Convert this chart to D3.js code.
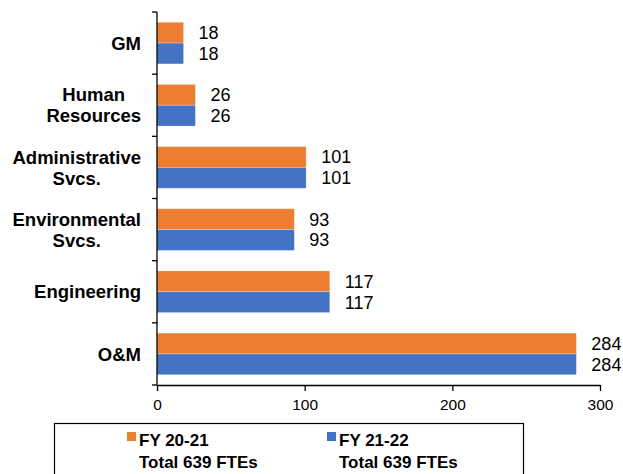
<!DOCTYPE html>
<html>
<head>
<meta charset="utf-8">
<script src="https://cdn.jsdelivr.net/npm/d3@7"></script>
<style>
  body { margin: 0; background: #fff; }
  svg { font-family: "Liberation Sans", Arial, sans-serif; }
</style>
</head>
<body>
<div id="chart"></div>
<script>
const categories = [
    ["GM"],
    ["Human", "Resources"],
    ["Administrative", "Svcs."],
    ["Environmental", "Svcs."],
    ["Engineering"],
    ["O&M"]
];
const fy2021 = [18, 26, 101, 93, 117, 284];
const fy2122 = [18, 26, 101, 93, 117, 284];
const xTicks = [0, 100, 200, 300];
const seriesNames = ["FY 20-21", "FY 21-22"];
const seriesTotals = ["Total 639 FTEs", "Total 639 FTEs"];
const colors = ["#ED7D31", "#4472C4"];

const W = 623, H = 474;
const MARGIN = { top: 12, left: 157, right: 23, bottom: 89 };

const svg = d3.select("#chart").append("svg")
    .attr("width", W).attr("height", H);

const keys = categories.map((c) => c.join(" "));

const y = d3.scaleBand()
    .domain(keys)
    .range([MARGIN.top, H - MARGIN.bottom])
    .paddingInner(0.33)
    .paddingOuter(0.165);

const x = d3.scaleLinear()
    .domain([0, 300])
    .range([MARGIN.left, W - MARGIN.right]);

const sub = d3.scaleBand()
    .domain([0, 1])
    .range([0, y.bandwidth()]);

// bars
const rows = keys.map((k, i) => ({ key: k, vals: [fy2021[i], fy2122[i]] }));
const groups = svg.append("g").selectAll("g")
    .data(rows).join("g")
    .attr("transform", (d) => `translate(0, ${y(d.key)})`);

groups.selectAll("rect")
    .data((d) => d.vals)
    .join("rect")
    .attr("x", x(0))
    .attr("y", (d, j) => sub(j))
    .attr("width", (d) => x(d) - x(0))
    .attr("height", sub.bandwidth())
    .attr("fill", (d, j) => colors[j])
    .attr("stroke", "#fff")
    .attr("stroke-opacity", 0.35)
    .attr("stroke-width", 0.8);

groups.selectAll("text.val")
    .data((d) => d.vals)
    .join("text")
    .attr("class", "val")
    .attr("x", (d) => x(d) + 15)
    .attr("y", (d, j) => sub(j) + sub.bandwidth() / 2)
    .attr("dy", "0.36em")
    .attr("font-size", 18)
    .attr("fill", "#000")
    .text((d) => d);

// y axis: line with ticks at category boundaries
const yTop = MARGIN.top, yBot = H - MARGIN.bottom;
const yAxis = svg.append("g");
yAxis.append("line")
    .attr("x1", x(0)).attr("x2", x(0))
    .attr("y1", yTop).attr("y2", yBot)
    .attr("stroke", "#000").attr("stroke-width", 1.3);
yAxis.selectAll("line.tick")
    .data(d3.range(keys.length + 1))
    .join("line")
    .attr("class", "tick")
    .attr("x1", x(0) - 5).attr("x2", x(0))
    .attr("y1", (i) => yTop + i * (yBot - yTop) / keys.length)
    .attr("y2", (i) => yTop + i * (yBot - yTop) / keys.length)
    .attr("stroke", "#000").attr("stroke-width", 1.3);

// category labels: block right-aligned at labelRight, lines centred in block
const labelRight = 141;
const catLabels = svg.append("g").selectAll("text")
    .data(categories).join("text")
    .attr("y", (d, i) => y(keys[i]) + y.bandwidth() / 2 - (d.length - 1) * 10.5)
    .attr("text-anchor", "middle")
    .attr("font-size", 18.5)
    .attr("font-weight", "bold")
    .attr("fill", "#000");
catLabels.selectAll("tspan")
    .data((d) => d).join("tspan")
    .attr("dy", (d, i) => i === 0 ? "0.36em" : 21)
    .text((d) => d);
catLabels.each(function() {
    const spans = d3.select(this).selectAll("tspan");
    let maxW = 0;
    spans.each(function() { maxW = Math.max(maxW, this.getComputedTextLength()); });
    spans.attr("x", labelRight - maxW / 2);
});

// x axis
const xAxis = svg.append("g")
    .attr("transform", `translate(0, ${yBot})`)
    .call(d3.axisBottom(x).tickValues(xTicks).tickSize(6).tickSizeOuter(0));
xAxis.select(".domain").attr("stroke-width", 1.3);
xAxis.selectAll(".tick line").attr("stroke-width", 1.3);
xAxis.selectAll("text")
    .attr("font-size", 15.5)
    .attr("font-family", "Liberation Sans, Arial, sans-serif")
    .attr("fill", "#000")
    .attr("dy", "1.05em");

// legend
const legend = svg.append("g");
legend.append("rect")
    .attr("x", 54.5).attr("y", 423.5)
    .attr("width", 469).attr("height", 60)
    .attr("fill", "#fff").attr("stroke", "#000").attr("stroke-width", 1.2);

const legendX = [127, 327];
seriesNames.forEach((name, i) => {
    const g = legend.append("g").attr("transform", `translate(${legendX[i]}, 0)`);
    g.append("rect")
        .attr("x", 0).attr("y", 432)
        .attr("width", 9).attr("height", 9)
        .attr("fill", colors[i]);
    g.append("text")
        .attr("x", 12).attr("y", 446)
        .attr("font-size", 17).attr("font-weight", "bold")
        .text(name);
    g.append("text")
        .attr("x", 12).attr("y", 468)
        .attr("font-size", 17).attr("font-weight", "bold")
        .text(seriesTotals[i]);
});
</script>
</body>
</html>
